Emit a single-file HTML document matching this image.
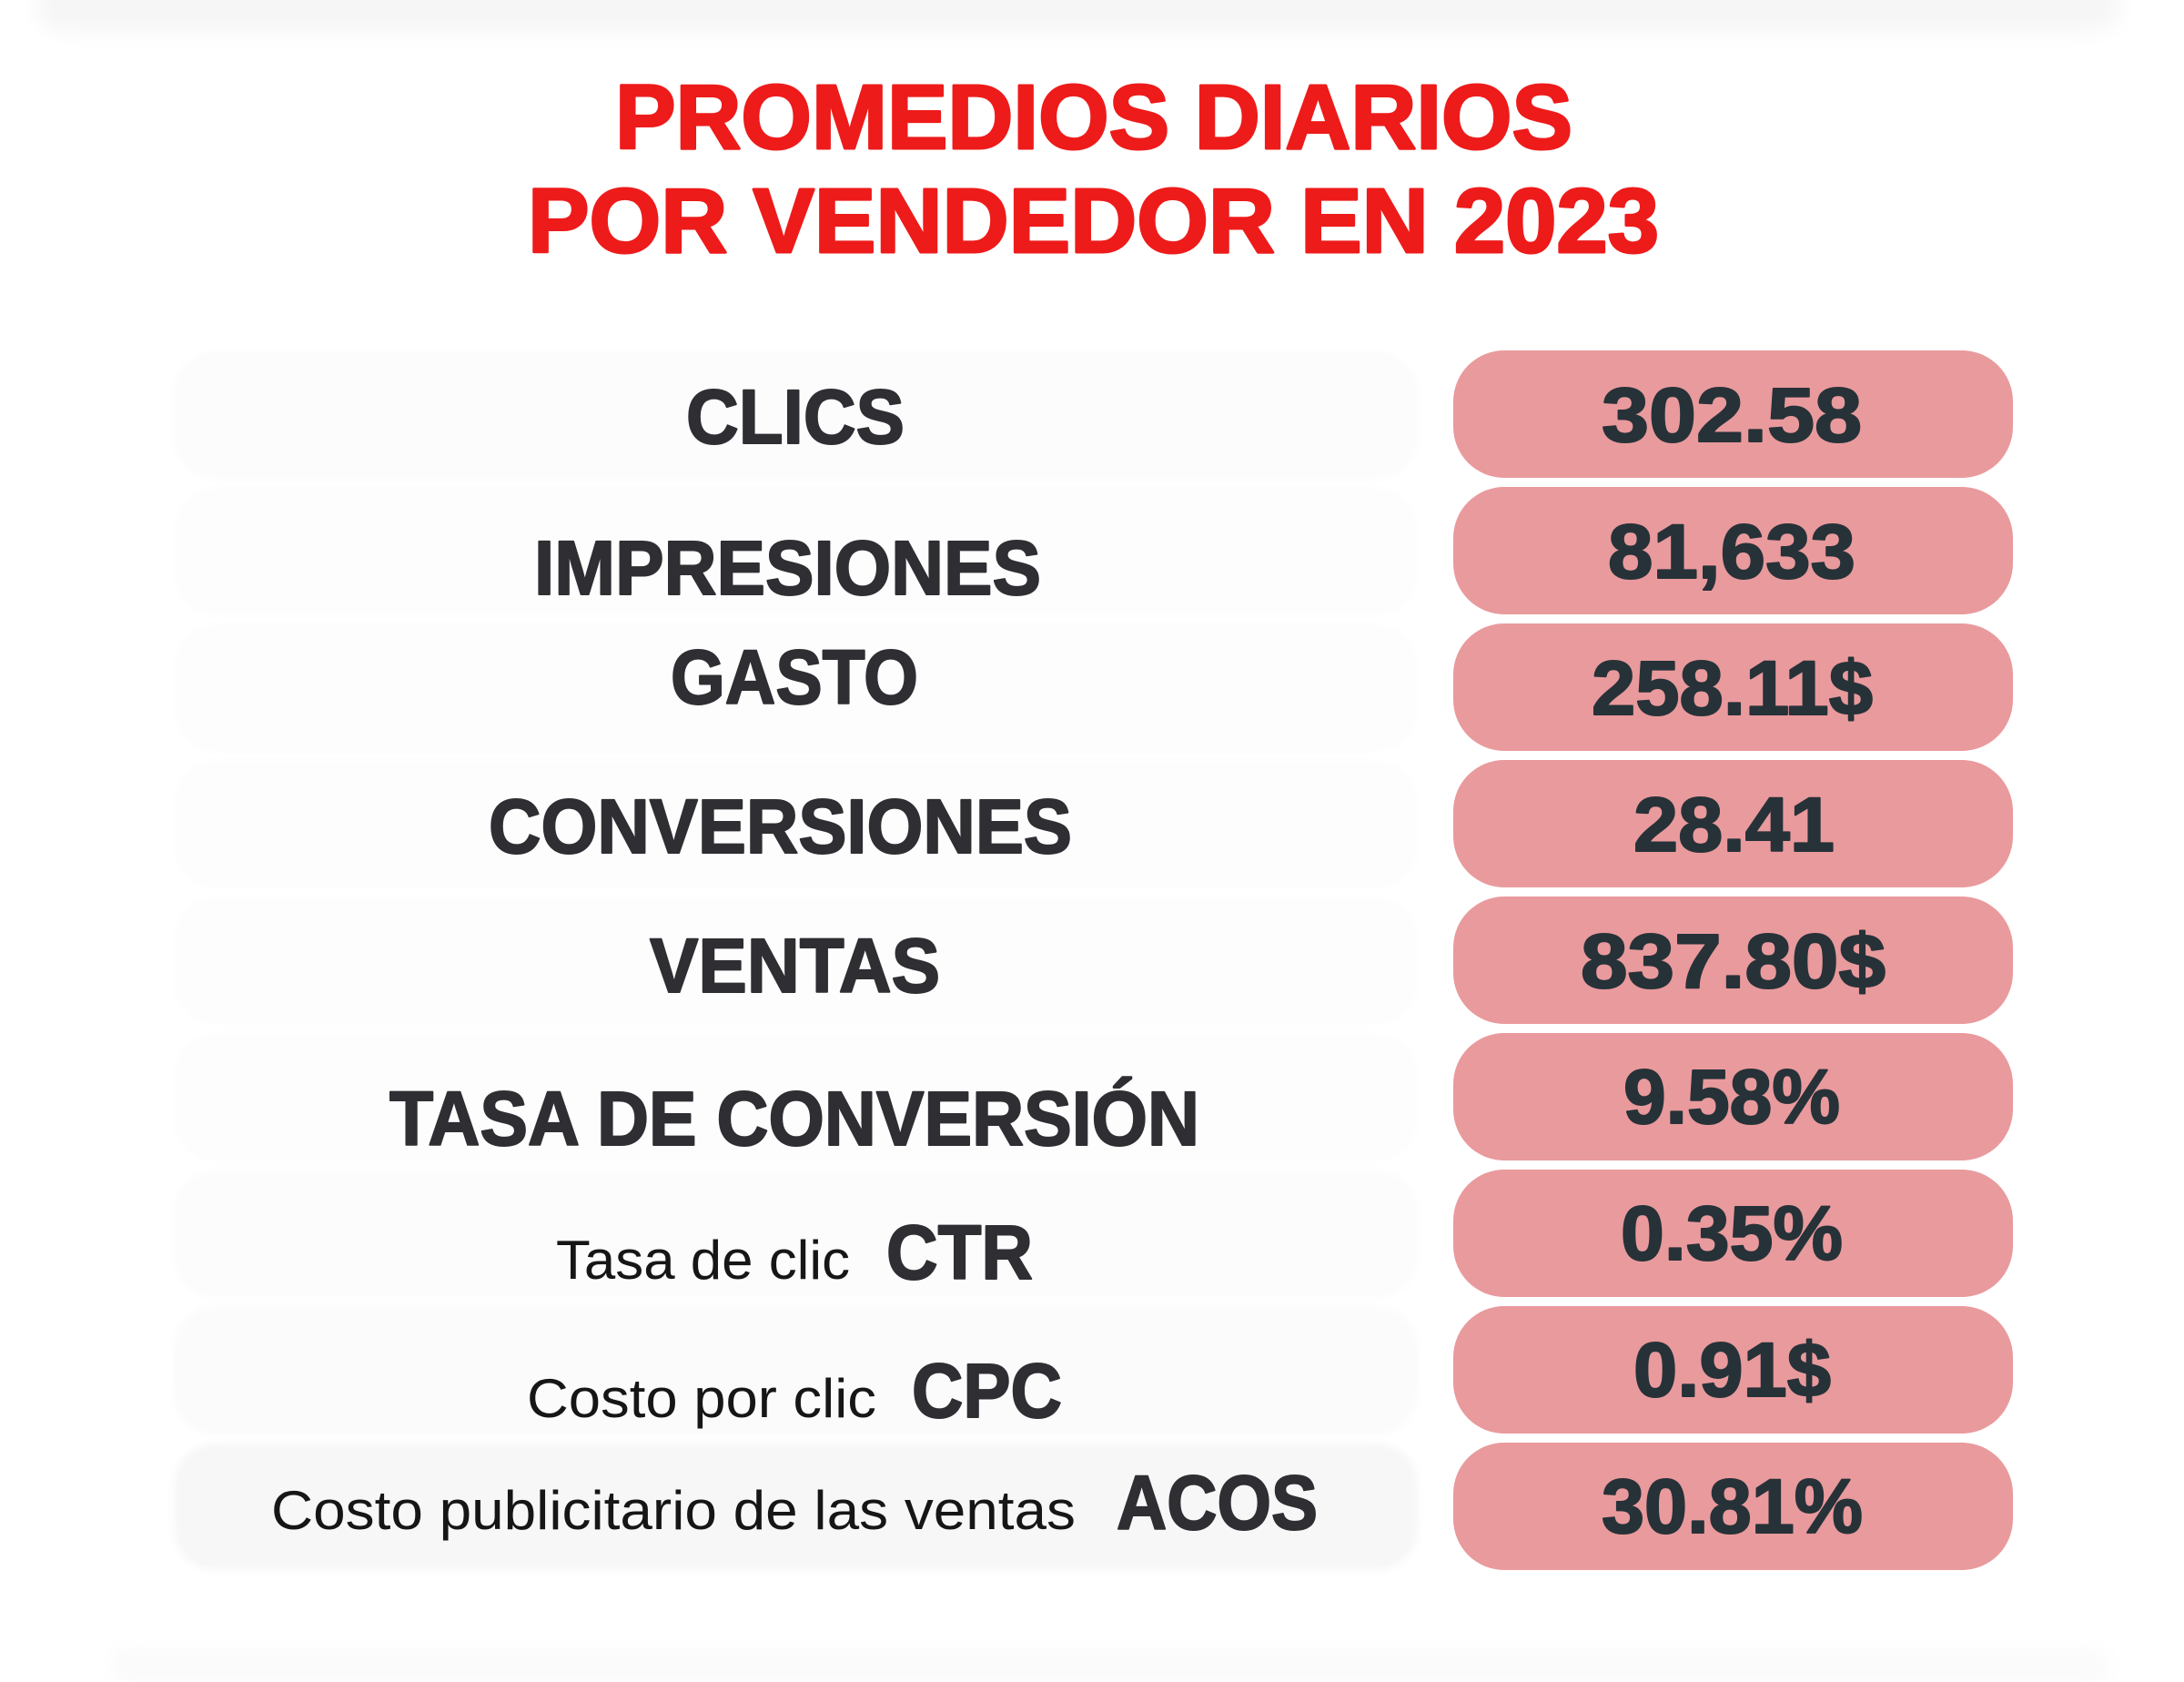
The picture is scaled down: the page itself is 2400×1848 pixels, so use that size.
<!DOCTYPE html>
<html>
<head>
<meta charset="utf-8">
<style>
  html, body { margin: 0; padding: 0; background: #ffffff; }
  body { width: 2400px; height: 1848px; overflow: hidden; }
  svg { display: block; }
</style>
</head>
<body>
<svg width="2400" height="1848" viewBox="0 0 2400 1848" xmlns="http://www.w3.org/2000/svg">
  <defs>
    <filter id="blur8" x="-10%" y="-50%" width="120%" height="200%">
      <feGaussianBlur stdDeviation="10"/>
    </filter>
    <filter id="blur4" x="-10%" y="-50%" width="120%" height="200%">
      <feGaussianBlur stdDeviation="4"/>
    </filter>
  </defs>
  <rect x="0" y="0" width="2400" height="1848" fill="#ffffff"/>

  <!-- faint top / bottom bands -->
  <rect x="40" y="-25" width="2290" height="60" rx="30" fill="#f6f6f6" filter="url(#blur8)"/>
  <rect x="120" y="1810" width="2200" height="40" rx="20" fill="#fbfbfb" filter="url(#blur8)"/>

  <!-- Title -->
  <g font-family="'Liberation Sans', Arial, sans-serif" font-weight="bold" font-size="100" fill="#ee1b1b" stroke="#ee1b1b" stroke-width="3" stroke-linejoin="round">
    <text x="676" y="163" textLength="1052" lengthAdjust="spacingAndGlyphs">PROMEDIOS DIARIOS</text>
    <text x="580" y="277" textLength="1243" lengthAdjust="spacingAndGlyphs">POR VENDEDOR EN 2023</text>
  </g>

  <!-- Left panels -->
  <g filter="url(#blur4)">
    <rect x="191" y="386" width="1367" height="140" rx="45" fill="#fcfcfc"/>
    <rect x="191" y="536" width="1367" height="140" rx="45" fill="#fdfdfd"/>
    <rect x="191" y="686" width="1367" height="140" rx="45" fill="#fdfdfd"/>
    <rect x="191" y="836" width="1367" height="140" rx="45" fill="#fdfdfd"/>
    <rect x="191" y="986" width="1367" height="140" rx="45" fill="#fdfdfd"/>
    <rect x="191" y="1136" width="1367" height="140" rx="45" fill="#fdfdfd"/>
    <rect x="191" y="1286" width="1367" height="140" rx="45" fill="#fcfcfc"/>
    <rect x="191" y="1436" width="1367" height="140" rx="45" fill="#fbfbfb"/>
    <rect x="191" y="1586" width="1367" height="139" rx="45" fill="#f7f7f7"/>
  </g>

  <!-- Pills -->
  <g fill="#e99a9d">
    <rect x="1597" y="385" width="615" height="140" rx="56"/>
    <rect x="1597" y="535" width="615" height="140" rx="56"/>
    <rect x="1597" y="685" width="615" height="140" rx="56"/>
    <rect x="1597" y="835" width="615" height="140" rx="56"/>
    <rect x="1597" y="985" width="615" height="140" rx="56"/>
    <rect x="1597" y="1135" width="615" height="140" rx="56"/>
    <rect x="1597" y="1285" width="615" height="140" rx="56"/>
    <rect x="1597" y="1435" width="615" height="140" rx="56"/>
    <rect x="1597" y="1585" width="615" height="140" rx="56"/>
  </g>

  <!-- Labels -->
  <g font-family="'Liberation Sans', Arial, sans-serif" font-weight="bold" font-size="84" fill="#2e2e33" stroke="#2e2e33" stroke-width="2" stroke-linejoin="round">
    <text x="754" y="487" textLength="240" lengthAdjust="spacingAndGlyphs">CLICS</text>
    <text x="587" y="653" textLength="557" lengthAdjust="spacingAndGlyphs">IMPRESIONES</text>
    <text x="737" y="773" textLength="272" lengthAdjust="spacingAndGlyphs">GASTO</text>
    <text x="537" y="937" textLength="641" lengthAdjust="spacingAndGlyphs">CONVERSIONES</text>
    <text x="714" y="1090" textLength="319" lengthAdjust="spacingAndGlyphs">VENTAS</text>
    <text x="428" y="1258" textLength="890" lengthAdjust="spacingAndGlyphs">TASA DE CONVERSIÓN</text>
    <text x="974" y="1405" textLength="161" lengthAdjust="spacingAndGlyphs">CTR</text>
    <text x="1002" y="1557" textLength="165" lengthAdjust="spacingAndGlyphs">CPC</text>
    <text x="1227" y="1680" textLength="221" lengthAdjust="spacingAndGlyphs">ACOS</text>
  </g>
  <g font-family="'Liberation Sans', Arial, sans-serif" font-size="60" fill="#161616">
    <text x="611" y="1405" textLength="323" lengthAdjust="spacingAndGlyphs">Tasa de clic</text>
    <text x="579" y="1557" textLength="384" lengthAdjust="spacingAndGlyphs">Costo por clic</text>
    <text x="298" y="1680" textLength="884" lengthAdjust="spacingAndGlyphs">Costo publicitario de las ventas</text>
  </g>

  <!-- Values -->
  <g font-family="'Liberation Sans', Arial, sans-serif" font-weight="bold" font-size="84" fill="#263238" stroke="#263238" stroke-width="2" stroke-linejoin="round">
    <text x="1760" y="485" textLength="286" lengthAdjust="spacingAndGlyphs">302.58</text>
    <text x="1767" y="635" textLength="272" lengthAdjust="spacingAndGlyphs">81,633</text>
    <text x="1749" y="785" textLength="309" lengthAdjust="spacingAndGlyphs">258.11$</text>
    <text x="1795" y="935" textLength="221" lengthAdjust="spacingAndGlyphs">28.41</text>
    <text x="1737" y="1085" textLength="335" lengthAdjust="spacingAndGlyphs">837.80$</text>
    <text x="1784" y="1234" textLength="238" lengthAdjust="spacingAndGlyphs">9.58%</text>
    <text x="1781" y="1384" textLength="244" lengthAdjust="spacingAndGlyphs">0.35%</text>
    <text x="1795" y="1534" textLength="217" lengthAdjust="spacingAndGlyphs">0.91$</text>
    <text x="1760" y="1684" textLength="287" lengthAdjust="spacingAndGlyphs">30.81%</text>
  </g>
</svg>
</body>
</html>
